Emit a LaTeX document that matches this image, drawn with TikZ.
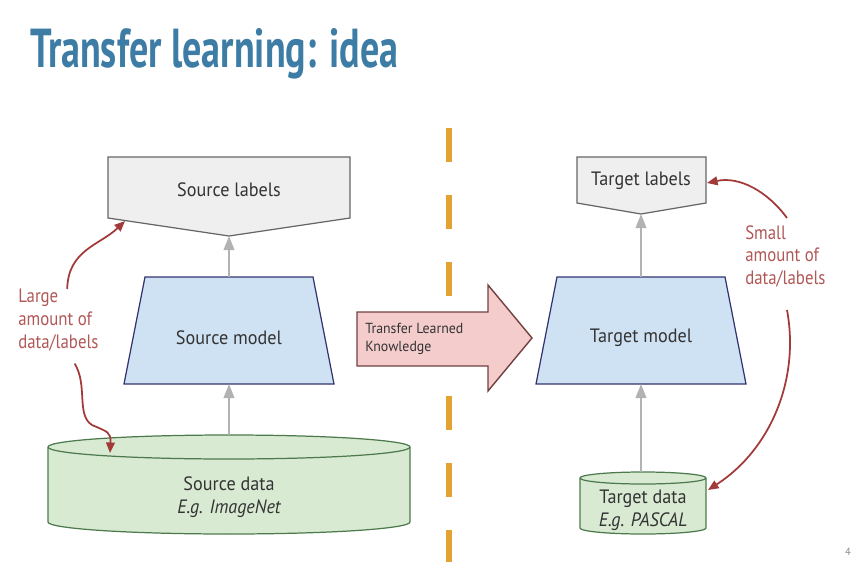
\documentclass[tikz,border=0pt]{standalone}
\usepackage{fontspec}
\setmainfont{PT Sans}
\usetikzlibrary{arrows.meta}
\definecolor{titleblue}{HTML}{3D7CA5}
\definecolor{labgray}{HTML}{EFEFEF}
\definecolor{modblue}{HTML}{CFE2F3}
\definecolor{datgreen}{HTML}{D9EAD3}
\definecolor{pinkarrow}{HTML}{F4CCCC}
\definecolor{dashorange}{HTML}{E3A232}
\definecolor{notered}{HTML}{A33A3A}

\begin{document}
\begin{tikzpicture}[x=0.02cm,y=-0.02cm,
	txt/.style={font=\fontsize{11}{13}\selectfont, text=black!80, xscale=0.94, transform shape, inner sep=0pt},
	note/.style={font=\fontsize{11}{13}\selectfont, text=notered!85, align=left, xscale=0.87, transform shape, inner sep=0pt},
	labbox/.style={draw=black!60, fill=labgray, line width=0.7pt},
	modbox/.style={draw=black!60!blue!60!gray, fill=modblue, line width=0.7pt},
	datbox/.style={draw=black!55!green!40!gray, fill=datgreen, line width=0.7pt},
	feed/.style={draw=black!30, line width=1.3pt, -{Triangle[width=6pt,length=8pt]}},
	hint/.style={draw=notered, line width=1pt, -{Triangle[width=5pt,length=6pt]}}]
\useasboundingbox (0,0) rectangle (856,565);

% title
\node[anchor=base west, inner sep=0pt, text=titleblue] (title) at (30,67)
	{\resizebox{7.36cm}{0.78cm}{\fontsize{28}{30}\bfseries Transfer learning: idea}};

% dashed divider
\draw[dashorange, line width=3.4pt, dash pattern=on 0.68cm off 0.66cm] (449,128) -- (449,562);

% source side
\draw[labbox] (108,157) -- (350,157) -- (350,218) -- (229,236) coordinate (slab) -- (108,218) -- cycle;
\node[txt] (slabtxt) at (229,190) {Source labels};
\draw[modbox] (145,277) -- (313,277) -- (334,384) -- (124,384) -- cycle;
\coordinate (smtop) at (229,277);
\coordinate (smbot) at (229,384);
\node[txt] (smodel) at (229,338) {Source model};
\draw[datbox] (48,447) -- (48,522) arc[start angle=180, end angle=0, x radius=181, y radius=12]
	-- (410,447) arc[start angle=0, end angle=-180, x radius=181, y radius=12] -- cycle;
\draw[datbox, fill=none] (48,447) arc[start angle=180, end angle=0, x radius=181, y radius=12];
\coordinate (sdat) at (229,435);
\node[txt, align=center] (sdata) at (229,497) {Source data\\\itshape E.g. ImageNet};
\draw[feed] (sdat) -- (smbot);
\draw[feed] (smtop) -- (slab);

% target side
\draw[labbox] (577,157) -- (706,157) -- (706,203) -- (641,214) coordinate (tlab) -- (577,203) -- cycle;
\node[txt] (tlabtxt) at (641,181) {Target labels};
\draw[modbox] (557,277) -- (725,277) -- (746,384) -- (536,384) -- cycle;
\coordinate (tmtop) at (641,277);
\coordinate (tmbot) at (641,384);
\node[txt] (tmodel) at (641,338) {Target model};
\draw[datbox] (580,478) -- (580,528) arc[start angle=180, end angle=0, x radius=63, y radius=6]
	-- (706,478) arc[start angle=0, end angle=-180, x radius=63, y radius=6] -- cycle;
\draw[datbox, fill=none] (580,478) arc[start angle=180, end angle=0, x radius=63, y radius=6];
\coordinate (tdat) at (641,472);
\node[txt, align=center] (tdata) at (643,510) {Target data\\\itshape E.g. PASCAL};
\draw[feed] (tdat) -- (tmbot);
\draw[feed] (tmtop) -- (tlab);

% transfer arrow
\draw[draw=black!60!red!50!gray, fill=pinkarrow, line width=0.8pt]
	(357,312) -- (488,312) -- (488,285) -- (532,338) -- (488,391) -- (488,366) -- (357,366) -- cycle;
\node[anchor=west, align=left, inner sep=0pt, text=black!80, xscale=0.95, transform shape,
	font=\fontsize{8.3}{10}\selectfont] (transfer) at (365,339) {Transfer Learned\\Knowledge};

% amount notes
\node[note, anchor=north west] (large) at (18,289) {Large\\amount of\\data/labels};
\node[note, anchor=north west] (small) at (745,225) {Small\\amount of\\data/labels};
\coordinate (slabin) at (125,221);
\coordinate (sdatin) at (110,453);
\coordinate (tlabin) at (707,183);
\coordinate (tdatin) at (708,490);
\draw[hint] ([xshift=5pt]large.north) .. controls (68,250) and (100,245) .. (slabin);
\draw[hint, shorten <=8pt] ([xshift=5pt]large.south) .. controls (88,385) and (76,415) .. (92,425)
	.. controls (108,432) and (111,432) .. (sdatin);
\draw[hint] (787,218) .. controls (768,192) and (740,176) .. (tlabin);
\draw[hint] (787,310) .. controls (800,380) and (770,450) .. (tdatin);

\node[text=black!45, font=\fontsize{6}{7}\selectfont] (page) at (848,552) {4};
\end{tikzpicture}
\end{document}
